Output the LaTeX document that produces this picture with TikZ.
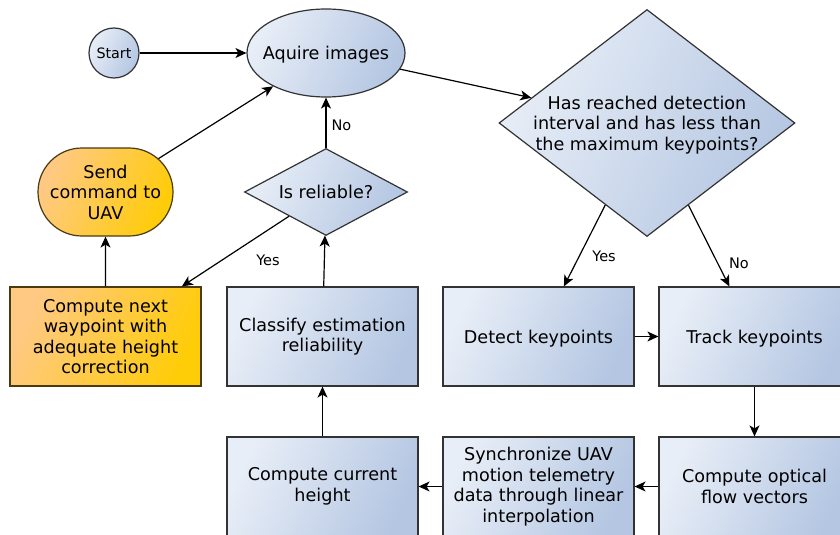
\documentclass[tikz,border=0pt]{standalone}
\usepackage{fontspec}
\setmainfont{DejaVu Sans}
\usetikzlibrary{shapes.geometric,shapes.misc,arrows.meta}
\definecolor{bl}{HTML}{E8EEF7}
\definecolor{br}{HTML}{B4C6E2}
\definecolor{ol}{HTML}{FFC984}
\definecolor{orr}{HTML}{FFCC08}
\definecolor{edgeb}{HTML}{333333}
\definecolor{edgeo}{HTML}{4A3A10}
\begin{document}
\begin{tikzpicture}[x=1pt,y=-1pt,
  base/.style={draw=edgeb, line width=1.2pt, font=\fontsize{17.6}{20.5}\selectfont, align=center, inner sep=0pt, text=black},
  bluefill/.style={base, left color=bl, right color=br, shading angle=65},
  orangefill/.style={base, draw=edgeo, left color=ol, right color=orr, shading angle=65},
  procbox/.style={bluefill, rectangle, minimum width=191pt, minimum height=99pt},
  orangebox/.style={orangefill, rectangle, minimum width=191pt, minimum height=99pt},
  oneline/.style={text height=15pt, text depth=2pt},
  lbl/.style={font=\fontsize{14.5}{17}\selectfont, inner sep=0pt},
  arr/.style={-{Stealth[length=11pt,width=10pt,inset=3pt]}, line width=1.2pt, draw=black}
]
\clip (0,0) rectangle (840,535);
\fill[white] (0,0) rectangle (840,535);

\node[bluefill, circle, minimum size=50pt, font=\fontsize{14.3}{17}\selectfont] (start) at (114,53) {Start};
\node[bluefill, ellipse, oneline, minimum width=158pt, minimum height=88pt, inner sep=-20pt] (aq) at (326,53) {Aquire images};
\node[bluefill, diamond, minimum width=296pt, minimum height=227pt, inner sep=-25pt] (big) at (647,123) {\rule{0pt}{17.5pt}Has reached detection\\interval and has less than\\the maximum keypoints?};
\node[bluefill, diamond, oneline, minimum width=163pt, minimum height=87pt, aspect=1.87] (rel) at (326,192) {Is reliable?};
\node[orangefill, rounded rectangle, minimum width=135pt, minimum height=88pt] (send) at (105.5,192) {Send\\command to\\UAV};

\node[orangebox] (wp) at (105.5,336.5) {Compute next\\waypoint with\\adequate height\\correction};
\node[procbox] (cls) at (322.5,336.5) {Classify estimation\\reliability};
\node[procbox, oneline] (det) at (538.5,336.5) {Detect keypoints};
\node[procbox, oneline] (trk) at (754.5,336.5) {Track keypoints};
\node[procbox] (hgt) at (322.5,486.5) {Compute current\\height};
\node[procbox] (syn) at (538.5,486.5) {Synchronize UAV\\motion telemetry\\data through linear\\interpolation};
\node[procbox] (flw) at (754.5,486.5) {Compute optical\\flow vectors};

\draw[arr] (start) -- (aq);
\draw[arr] (send) -- (aq);
\draw[arr] (rel) -- (aq);
\draw[arr] (aq) -- (big);
\draw[arr] (big) -- (det);
\draw[arr] (big) -- (trk);
\draw[arr] (det) -- (trk);
\draw[arr] (trk) -- (flw);
\draw[arr] (flw) -- (syn);
\draw[arr] (syn) -- (hgt);
\draw[arr] (hgt) -- (cls);
\draw[arr] (cls) -- (rel);
\draw[arr] (rel) -- (wp);
\draw[arr] (wp) -- (send);

\node[lbl] (lno1) at (341.5,125) {No};
\node[lbl] (lyes1) at (268,260) {Yes};
\node[lbl] (lyes2) at (604,256.5) {Yes};
\node[lbl] (lno2) at (739,263.5) {No};
\end{tikzpicture}
\end{document}
